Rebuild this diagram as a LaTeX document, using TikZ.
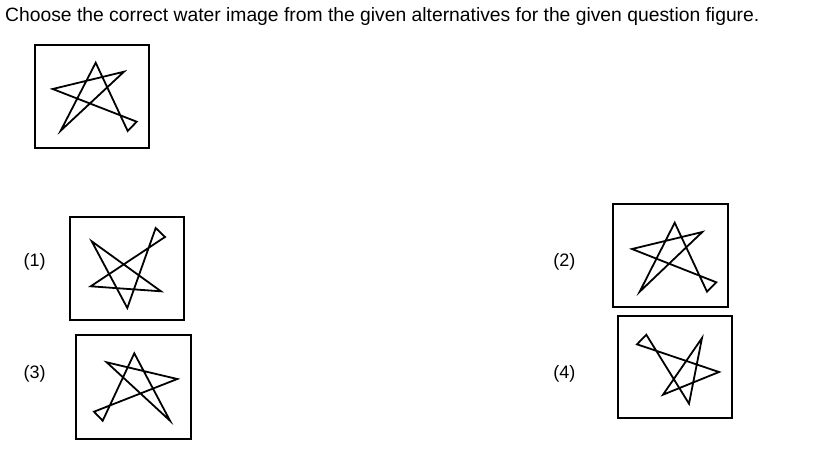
\documentclass[tikz,border=0pt]{standalone}
\usepackage{fontspec}
\setmainfont{Liberation Sans}
\begin{document}
\begin{tikzpicture}[x=1pt,y=-1pt,
  framebox/.style={draw=black,line width=1.3pt},
  starline/.style={draw=black,line width=1.8pt,line join=miter},
  lbl/.style={font=\fontsize{18}{20}\selectfont,inner sep=0pt},
  ttl/.style={font=\fontsize{19.3}{22}\selectfont,inner sep=0pt,anchor=base west}]
\useasboundingbox (0,0) rectangle (818,466);
\node[ttl] (title) at (5,21) {Choose the correct water image from the given alternatives for the given question figure.};
% question figure
\draw[framebox] (35,45) rectangle (149,148);
\draw[starline] (60.7,130.7) -- (95.7,62.7) -- (127.7,131) -- (136.7,121.7) -- (52.7,89) -- (124,71.7) -- cycle;
% option 1
\node[lbl] (l1) at (34.7,261.7) {(1)};
\draw[framebox] (70,217) rectangle (184,320);
\draw[starline] (91.7,241.3) -- (127.3,308) -- (155.7,228) -- (165,237) -- (90.7,286.3) -- (161,291.3) -- cycle;
% option 2
\node[lbl] (l2) at (564.3,261.7) {(2)};
\draw[framebox] (613,204) rectangle (728,307);
\draw[starline] (639.7,291.7) -- (674.7,222.7) -- (707,291.7) -- (716.3,282.3) -- (632,249) -- (702.3,232) -- cycle;
% option 3
\node[lbl] (l3) at (34.7,373.7) {(3)};
\draw[framebox] (76,335) rectangle (191,439);
\draw[starline] (170,420.7) -- (134.3,353.3) -- (102.7,420.7) -- (94,411.7) -- (177.3,379) -- (106.7,362.3) -- cycle;
% option 4
\node[lbl] (l4) at (564.3,373.7) {(4)};
\draw[framebox] (618,316) rectangle (732,418);
\draw[starline] (702,338) -- (689,403.7) -- (646.3,334.7) -- (637,344.3) -- (719,372) -- (663,394.7) -- cycle;
\end{tikzpicture}
\end{document}
